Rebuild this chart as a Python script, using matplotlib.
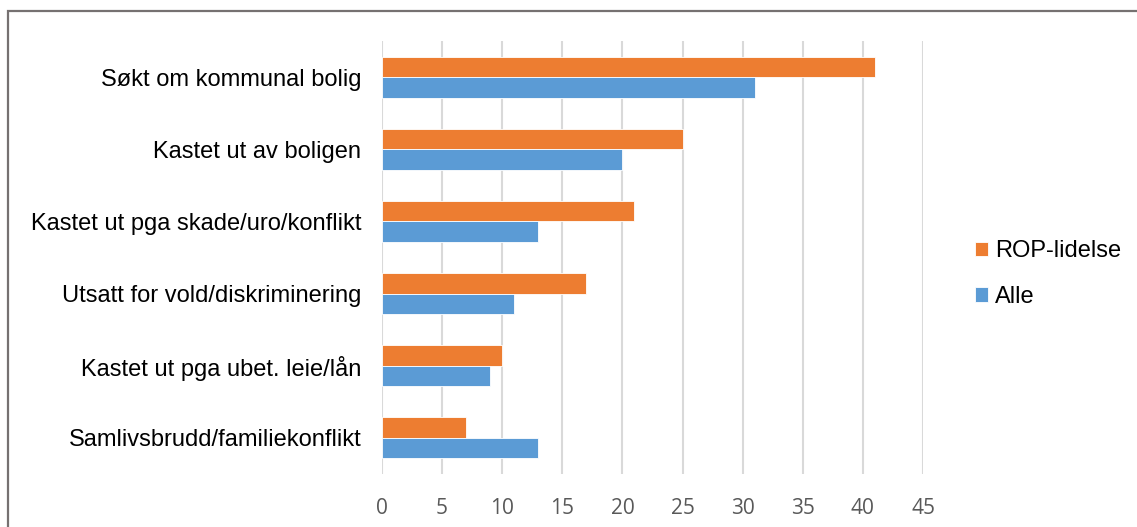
import numpy as np
import matplotlib
matplotlib.use("Agg")
from matplotlib import pyplot as plt
from matplotlib.patches import Rectangle

# data, top to bottom as in the chart
categories = ["Søkt om kommunal bolig", "Kastet ut av boligen",
              "Kastet ut pga skade/uro/konflikt", "Utsatt for vold/diskriminering",
              "Kastet ut pga ubet. leie/lån", "Samlivsbrudd/familiekonflikt"]
rop = [41, 25, 21, 17, 10, 7]
alle = [31, 20, 13, 11, 9, 13]
xticks = [0, 5, 10, 15, 20, 25, 30, 35, 40, 45]

W, H = 1137, 527
fig = plt.figure(figsize=(W / 100, H / 100), dpi=100)
ax = fig.add_axes([382 / W, 1 - 474 / H, (923 - 382) / W, (474 - 41) / H])

y = np.arange(len(categories))
h = 0.284
ax.barh(y - h / 2, rop, height=h, color="#ED7D31", edgecolor="white", linewidth=0.6,
        label="ROP-lidelse", zorder=3)
ax.barh(y + h / 2, alle, height=h, color="#5B9BD5", edgecolor="white", linewidth=0.6,
        label="Alle", zorder=3)

ax.set_ylim(len(categories) - 0.5, -0.5)
ax.set_xlim(0, 45)
ax.set_yticks(y)
ax.set_yticklabels(categories, fontsize=17, family="Liberation Sans", color="black")
ax.set_xticks(xticks)
ax.set_xticklabels([str(t) for t in xticks], fontsize=15, family="Open Sans", color="#595959")
ax.tick_params(axis="y", length=0, pad=15)
ax.tick_params(axis="x", length=0, pad=17)

for t in xticks:
    ax.axvline(t, color="#d9d9d9", linewidth=1.5, zorder=1)
for s in ax.spines.values():
    s.set_visible(False)

leg = fig.legend(*ax.get_legend_handles_labels(), loc="center left",
                 bbox_to_anchor=(975 / W, 1 - 274 / H), frameon=False,
                 prop={"family": "Liberation Sans", "size": 17},
                 handlelength=0.55, handleheight=0.55, handletextpad=0.3,
                 labelspacing=1.0, borderpad=0, borderaxespad=0)

# outer chart border (cut off at right and bottom)
fig.patches.append(Rectangle((8 / W, -0.1), 1.2, 1 - 11 / H + 0.1,
                             transform=fig.transFigure, fill=False,
                             edgecolor="#767171", linewidth=1.6))

fig.savefig("out.png", dpi=100)
